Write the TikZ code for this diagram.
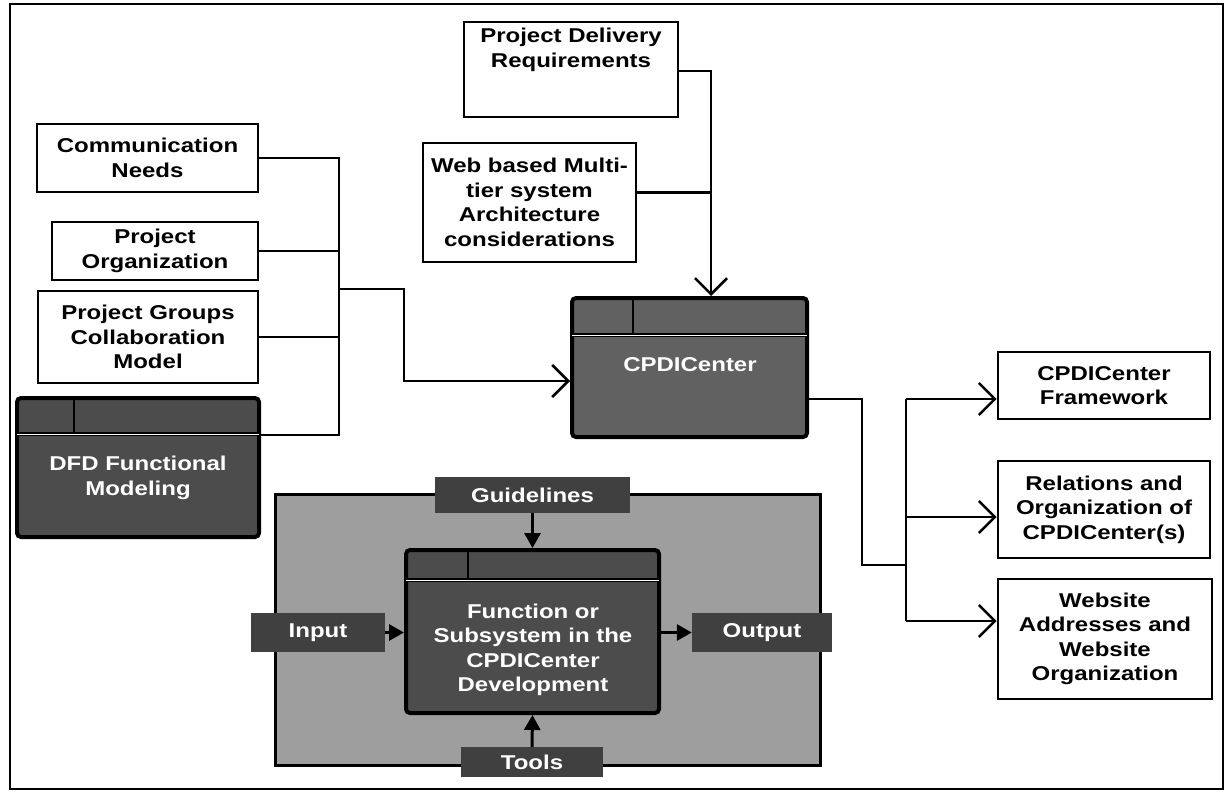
\documentclass[tikz,border=0pt]{standalone}
\usepackage{fontspec}
\setmainfont{Liberation Sans}[FakeStretch=1.2]
\usetikzlibrary{arrows.meta,calc}
\newcommand\hdrrow[3]{%
  \draw[line width=1.2pt] ([xshift=#3pt]#1.north west) -- ([xshift=#3pt,yshift=-#2pt]#1.north west);
  \draw[line width=3.5pt] ([yshift=-#2pt]#1.north west) -- ([yshift=-#2pt]#1.north east);
  \draw[white,line width=0.8pt] ([yshift=-#2pt,xshift=2pt]#1.north west) -- ([yshift=-#2pt,xshift=-2pt]#1.north east);
}
\begin{document}
\begin{tikzpicture}[x=1pt,y=-1pt,
  txt/.style={font=\fontsize{20}{24.5}\selectfont\bfseries},
  wbox/.style={txt,draw,line width=2.6pt,fill=white,inner sep=0pt,align=center},
  dbox/.style={txt,draw,line width=4pt,rounded corners=4pt,fill=black!62,inner sep=0pt},
  dlab/.style={txt,fill=black!75,inner sep=0pt,text=white,align=center},
  wtext/.style={txt,text=white,align=center,inner sep=0pt},
  conn/.style={line width=2.6pt},
  barb/.style={conn,-{Straight Barb[length=16pt,width=32pt,line width=2.6pt]}},
  tri/.style={line width=3pt,-{Triangle[length=15pt,width=16pt]}}]
\useasboundingbox (0,0) rectangle (1226,792);
\draw[line width=2pt] (10,4) rectangle (1223,789);

% white boxes
\node[wbox,minimum width=214pt,minimum height=95pt,
  label={[txt,align=center,anchor=north,yshift=-4pt]north:Project Delivery\\Requirements}] (pd) at (571,69.5) {};
\node[wbox,minimum width=213pt,minimum height=119pt] (web) at (529.5,202.5) {Web based Multi-\\tier system\\Architecture\\considerations};
\node[wbox,minimum width=221pt,minimum height=68pt] (comm) at (147.5,158) {Communication\\Needs};
\node[wbox,minimum width=206pt,minimum height=58pt] (po) at (155,251) {Project\\Organization};
\node[wbox,minimum width=220pt,minimum height=92pt] (grp) at (148,337) {Project Groups\\Collaboration\\Model};
\node[wbox,minimum width=212pt,minimum height=67pt] (fw) at (1104,385.5) {CPDICenter\\Framework};
\node[wbox,minimum width=212pt,minimum height=97pt] (rel) at (1104,509.5) {Relations and\\Organization of\\CPDICenter(s)};
\node[wbox,minimum width=214pt,minimum height=120pt] (ws) at (1105,639) {Website\\Addresses and\\Website\\Organization};

% dark boxes
\node[dbox,minimum width=235pt,minimum height=139pt] (cpdi) at (689.5,367.5) {};
\hdrrow{cpdi}{39}{63}
\node[wtext] (cpdit) at (690,365) {CPDICenter};

\node[dbox,fill=black!70,minimum width=242pt,minimum height=139pt] (dfd) at (138,467.5) {};
\hdrrow{dfd}{38}{59}
\node[wtext] (dfdt) at (138,478) {DFD Functional\\Modeling};

% big light box with IDEF0 legend
\node[draw,line width=3pt,fill=black!38,minimum width=545pt,minimum height=271pt,inner sep=0pt] (big) at (547.5,629.5) {};
\node[dlab,minimum width=195pt,minimum height=36pt] (gl) at (532.5,495) {Guidelines};
\node[dlab,minimum width=142pt,minimum height=30pt] (tools) at (532,762) {Tools};
\node[dlab,minimum width=134pt,minimum height=39pt] (inp) at (318,632.5) {Input};
\node[dlab,minimum width=140pt,minimum height=39pt] (outp) at (762,632.5) {Output};
\node[dbox,fill=black!70,minimum width=253pt,minimum height=163pt] (inner) at (532.5,631.5) {};
\hdrrow{inner}{32}{64}
\node[wtext] (innert) at (533,650) {Function or\\Subsystem in the\\CPDICenter\\Development};

\draw[tri] (gl.south) -- (inner.north);
\draw[tri] (tools.north) -- (inner.south);
\draw[tri] (inp.east) -- (inp.east -| inner.west);
\draw[tri] (inner.east |- outp.west) -- (outp.west);

% connectors left
\coordinate (busb) at (339,435);
\coordinate (j1) at (339,289);
\coordinate (j2) at (404,381);
\draw[conn] (comm.east) -| (busb) -- (busb -| dfd.east);
\draw[conn] (po.east) -- (po.east -| busb);
\draw[conn] (grp.east) -- (grp.east -| busb);
\draw[barb] (j1) -| (j2) -- (j2 -| cpdi.west);

% connectors top
\coordinate (k) at (711,71);
\draw[barb] (pd.east |- k) -- (k) -- (k |- cpdi.north);
\draw[conn] ([yshift=10pt]web.east) -- ([yshift=10pt]web.east -| k);

% connectors right
\coordinate (o1) at (807,399);
\coordinate (m1) at (862,565);
\coordinate (b1) at (906,399);
\coordinate (b2) at (906,517);
\coordinate (b3) at (906,621);
\draw[conn] (o1 -| cpdi.east) -| (m1) -- (m1 -| b1);
\draw[conn] (b1) -- (b3);
\draw[barb] (b1) -- (b1 -| fw.west);
\draw[barb] (b2) -- (b2 -| rel.west);
\draw[barb] (b3) -- (b3 -| ws.west);
\end{tikzpicture}
\end{document}
